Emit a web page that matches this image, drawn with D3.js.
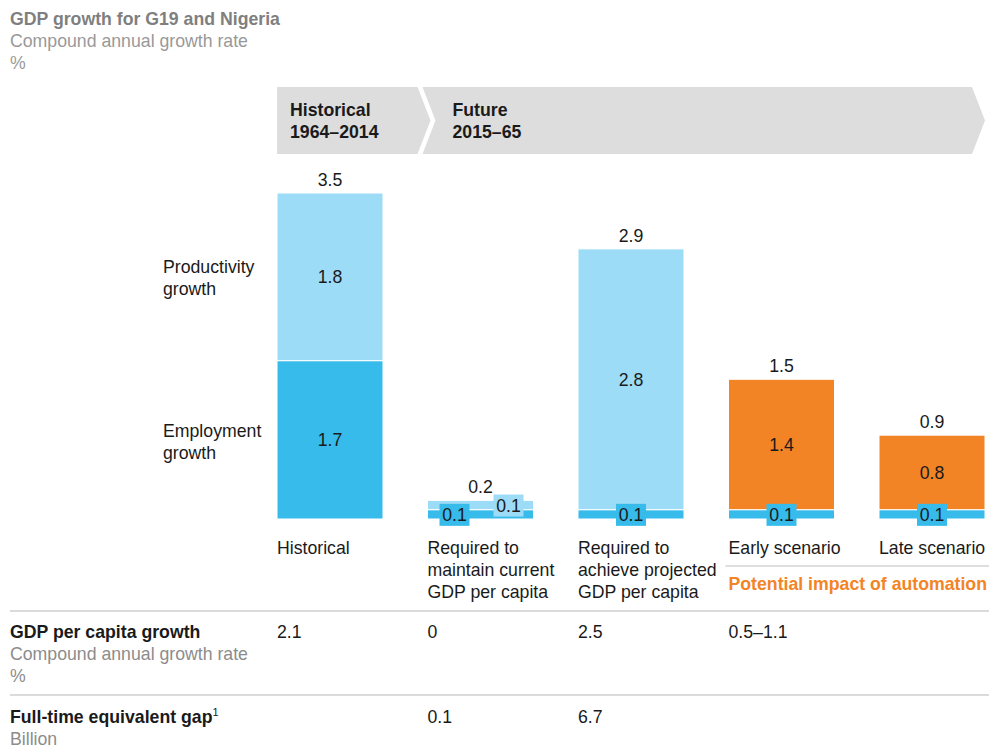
<!DOCTYPE html>
<html>
<head>
<meta charset="utf-8">
<script src="https://cdn.jsdelivr.net/npm/d3@7"></script>
<style>
  body { margin: 0; background: #fff; }
  svg { font-family: "Liberation Sans", Arial, sans-serif; }
</style>
</head>
<body>
<svg id="chart" width="989" height="753"></svg>
<script>
// data
const categories = ["Historical", "Maintain", "Achieve", "Early", "Late"];
const categoryLabels = [
  ["Historical"],
  ["Required to", "maintain current", "GDP per capita"],
  ["Required to", "achieve projected", "GDP per capita"],
  ["Early scenario"],
  ["Late scenario"]
];
const employment = [1.7, 0.1, 0.1, 0.1, 0.1];
const productivity = [1.8, 0.1, 2.8, 1.4, 0.8];
const totals = [3.5, 0.2, 2.9, 1.5, 0.9];
const automation = [false, false, false, true, true];
const periods = [
  { name: "Historical", years: "1964–2014", from: "Historical", to: "Historical" },
  { name: "Future", years: "2015–65", from: "Maintain", to: "Late" }
];
const gdpPerCapita = ["2.1", "0", "2.5", "0.5–1.1", ""];
const fteGap = ["", "0.1", "6.7", "", ""];

const FS = 17.7;
const colEmp = "#36bbeb", colProd = "#9ddcf6", colAuto = "#f28426";
const dark = "#1a1a1a", gray = "#8c8c8c";

const svg = d3.select("#chart");

const rows = categories.map((c, i) => ({
  cat: c, employment: employment[i], productivity: productivity[i],
  total: totals[i], auto: automation[i]
}));

const x = d3.scaleBand().domain(categories).range([277, 985]).paddingInner(0.2957);
const y = d3.scaleLinear().domain([0, 3.5]).range([519, 193]);

// title
const title = svg.append("g").attr("transform", "translate(10,0)");
title.append("text").attr("y", 25).attr("font-size", FS).attr("font-weight", "bold")
  .attr("fill", "#7f7f7f").text("GDP growth for G19 and Nigeria");
title.append("text").attr("y", 47).attr("font-size", FS).attr("fill", "#999")
  .text("Compound annual growth rate");
title.append("text").attr("y", 69).attr("font-size", FS).attr("fill", "#999").text("%");

// period header chevrons
const hTop = 87, hBot = 154, hMid = (hTop + hBot) / 2, depth = 13;
periods.forEach((p, i) => {
  const left = i === 0 ? x(p.from) : x(p.from) - 5;
  const right = i < periods.length - 1 ? x(periods[i + 1].from) - 10 : x(p.to) + x.bandwidth() - depth;
  const notch = i === 0 ? 0 : depth;
  const pts = [[left, hTop], [right, hTop], [right + depth, hMid], [right, hBot], [left, hBot], [left + notch, hMid]];
  svg.append("path").attr("d", d3.line()(pts) + "Z").attr("fill", "#dddddd");
  const tx = i === 0 ? left + 13 : left + notch + 17;
  svg.append("text").attr("x", tx).attr("y", 116).attr("font-size", FS).attr("font-weight", "bold")
    .attr("fill", dark).text(p.name);
  svg.append("text").attr("x", tx).attr("y", 138).attr("font-size", FS).attr("font-weight", "bold")
    .attr("fill", dark).text(p.years);
});

// stacked bars
const series = d3.stack().keys(["employment", "productivity"])(rows);
const segColor = (key, d) => key === "employment" ? colEmp : (d.data.auto ? colAuto : colProd);

series.forEach(s => {
  svg.append("g").selectAll("rect")
    .data(s)
    .join("rect")
    .attr("x", d => x(d.data.cat))
    .attr("y", d => y(d[1]))
    .attr("width", x.bandwidth())
    .attr("height", d => y(d[0]) - y(d[1]))
    .attr("fill", d => segColor(s.key, d))
    .attr("stroke", "#fff")
    .attr("stroke-width", 1);
});

// segment labels
series.forEach(s => {
  s.forEach(d => {
    const h = y(d[0]) - y(d[1]);
    const cy = (y(d[0]) + y(d[1])) / 2;
    let cx = x(d.data.cat) + x.bandwidth() / 2;
    const val = d.data[s.key];
    const small = h < 20;
    if (small) {
      const bothSmall = (y(0) - y(d.data.total)) < 30;
      if (bothSmall) cx += s.key === "employment" ? -26 : 28;
      svg.append("rect").attr("x", cx - 15).attr("y", cy - 10.5).attr("width", 30).attr("height", 22)
        .attr("fill", segColor(s.key, d));
    }
    svg.append("text").attr("x", cx).attr("y", cy + 6.5).attr("text-anchor", "middle")
      .attr("font-size", FS).attr("fill", dark).text(d3.format(".1f")(val));
  });
});

// totals
svg.append("g").selectAll("text")
  .data(rows)
  .join("text")
  .attr("x", d => x(d.cat) + x.bandwidth() / 2)
  .attr("y", d => y(d.total) - 7)
  .attr("text-anchor", "middle")
  .attr("font-size", FS)
  .attr("fill", dark)
  .text(d => d3.format(".1f")(d.total));

// left legend labels
const legend = [
  { lines: ["Productivity", "growth"], y: 273 },
  { lines: ["Employment", "growth"], y: 437 }
];
legend.forEach(l => {
  l.lines.forEach((t, j) => {
    svg.append("text").attr("x", 163).attr("y", l.y + j * 22).attr("font-size", FS)
      .attr("fill", dark).text(t);
  });
});

// category labels
categories.forEach((c, i) => {
  categoryLabels[i].forEach((t, j) => {
    svg.append("text").attr("x", x(c)).attr("y", 554 + j * 22).attr("font-size", FS)
      .attr("fill", dark).text(t);
  });
});

// automation bracket
const autoCats = categories.filter((c, i) => automation[i]);
svg.append("line").attr("x1", x(autoCats[0]) - 3).attr("x2", 989)
  .attr("y1", 566).attr("y2", 566).attr("stroke", "#bdbdbd").attr("stroke-width", 1.2);
svg.append("text").attr("x", x(autoCats[0])).attr("y", 590).attr("font-size", FS)
  .attr("font-weight", "bold").attr("fill", colAuto).text("Potential impact of automation");

// bottom table
[611, 695].forEach(ly => {
  svg.append("line").attr("x1", 10).attr("x2", 989).attr("y1", ly).attr("y2", ly)
    .attr("stroke", "#cfcfcf").attr("stroke-width", 1.5);
});

const t1 = svg.append("g");
t1.append("text").attr("x", 10).attr("y", 638).attr("font-size", FS).attr("font-weight", "bold")
  .attr("fill", dark).text("GDP per capita growth");
t1.append("text").attr("x", 10).attr("y", 660).attr("font-size", FS).attr("fill", gray)
  .text("Compound annual growth rate");
t1.append("text").attr("x", 10).attr("y", 682).attr("font-size", FS).attr("fill", gray).text("%");
t1.selectAll("text.v").data(gdpPerCapita).join("text").attr("class", "v")
  .attr("x", (d, i) => x(categories[i])).attr("y", 638).attr("font-size", FS)
  .attr("fill", dark).text(d => d);

const t2 = svg.append("g");
const fte = t2.append("text").attr("x", 10).attr("y", 723).attr("font-size", FS)
  .attr("font-weight", "bold").attr("fill", dark);
fte.append("tspan").text("Full-time equivalent gap");
fte.append("tspan").attr("dy", -7).attr("font-size", 11).attr("font-weight", "normal").text("1");
t2.append("text").attr("x", 10).attr("y", 745).attr("font-size", FS).attr("fill", gray).text("Billion");
t2.selectAll("text.v").data(fteGap).join("text").attr("class", "v")
  .attr("x", (d, i) => x(categories[i])).attr("y", 723).attr("font-size", FS)
  .attr("fill", dark).text(d => d);
</script>
</body>
</html>
